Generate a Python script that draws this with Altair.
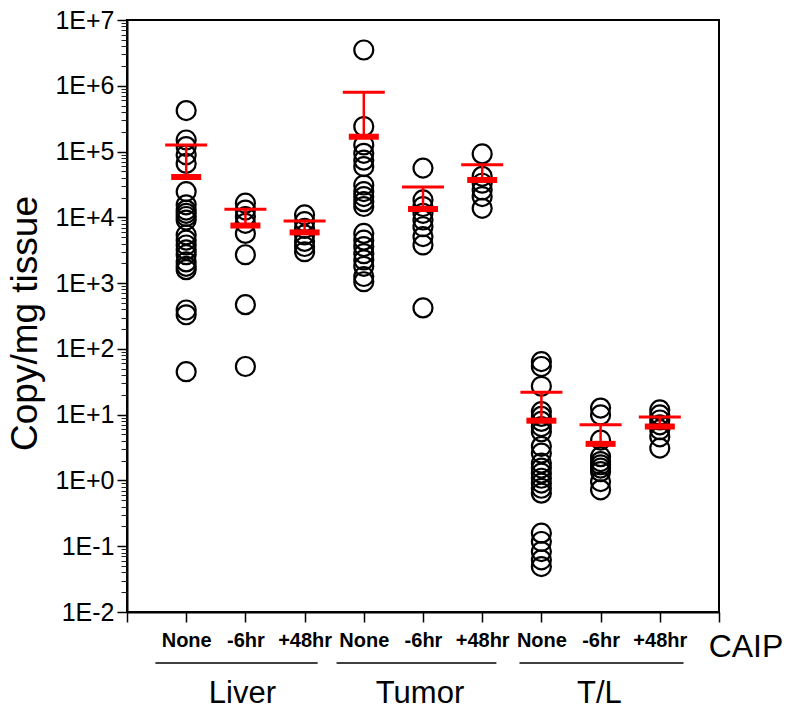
import altair as alt
import pandas as pd

FONT = "Liberation Sans, Arial, Helvetica, sans-serif"

tissues = ["Liver", "Tumor", "T/L"]
treatments = ["None", "-6hr", "+48hr"]

# Copy/mg tissue (log scale)
liver_none = [4.2e5, 1.5e5, 1.19e5, 8.9e4, 6.6e4, 2.46e4, 1.55e4, 1.29e4, 1.15e4, 1.03e4,
              9.1e3, 5.4e3, 4.5e3, 3.8e3, 3.2e3, 2.7e3, 2.1e3, 1.8e3, 1.6e3, 3.9e2, 3.3e2, 45]
liver_m6 = [1.64e4, 1.29e4, 1.03e4, 8.1e3, 5.7e3, 2.7e3, 4.7e2, 54]
liver_p48 = [1.09e4, 8.6e3, 6.8e3, 5.4e3, 4.3e3, 3.6e3, 3.0e3]
tumor_none = [3.5e6, 2.4e5, 1.26e5, 9.4e4, 7.4e4, 5.9e4, 3.1e4, 2.46e4, 2.07e4, 1.73e4,
              1.46e4, 5.7e3, 4.5e3, 3.6e3, 2.8e3, 2.25e3, 1.8e3, 1.26e3, 1.05e3]
tumor_m6 = [5.6e4, 1.84e4, 1.46e4, 1.15e4, 9.1e3, 7.2e3, 5.1e3, 3.8e3, 4.2e2]
tumor_p48 = [9.2e4, 4.2e4, 3.3e4, 2.6e4, 2.07e4, 1.37e4]
tl_none = [64, 54, 27, 11.1, 9.4, 7.9, 6.6, 5.5, 3.3, 2.6, 1.83, 1.54, 1.29, 1.08, 0.91,
           0.76, 0.64, 0.158, 0.118, 0.083, 0.062, 0.049]
tl_m6 = [12.6, 9.9, 4.1, 2.3, 1.94, 1.73, 1.54, 1.36, 0.96, 0.72]
tl_p48 = [11.8, 9.9, 8.3, 7.0, 5.9, 4.6, 3.1]

group_means = [4.1e4, 7.5e3, 5.9e3, 1.68e5, 1.34e4, 3.7e4, 8.1, 3.6, 6.6]
group_upper = [1.26e5, 1.33e4, 8.8e3, 8.0e5, 2.9e4, 6.3e4, 22, 7.0, 9.2]

series = [liver_none, liver_m6, liver_p48, tumor_none, tumor_m6, tumor_p48,
          tl_none, tl_m6, tl_p48]

rows = []
for i, vals in enumerate(series):
    for v in vals:
        rows.append({"pos": i + 1, "value": v})
points_df = pd.DataFrame(rows)
summary_df = pd.DataFrame({"pos": list(range(1, 10)), "mean": group_means, "upper": group_upper})

# decorative group underlines and labels (x in axis units)
group_df = pd.DataFrame({
    "tissue": tissues,
    "start": [0.48, 3.54, 6.63],
    "end": [3.22, 6.24, 9.40],
    "center": [1.95, 4.95, 7.98],
})

major_ticks = [10.0 ** k for k in range(-2, 8)]
minor_ticks = [m * 10.0 ** k for k in range(-2, 7) for m in range(2, 10)]

W, H = 592, 592
x_scale = alt.Scale(domain=[0, 10], nice=False, zero=False)
y_scale = alt.Scale(type="log", domain=[0.01, 1e7], nice=False)

x_label_expr = ("datum.value >= 1 && datum.value <= 9 ? ["
                + ",".join("'%s'" % t for t in treatments)
                + "][(datum.value - 1) % 3] : ''")
y_label_expr = ("'1E' + (datum.value >= 1 ? '+' : '-') + "
                "abs(round(log(datum.value) / LN10))")

x_axis = alt.Axis(values=list(range(11)), labelExpr=x_label_expr, title=None, grid=False,
                  tickSize=10, tickWidth=1.5, tickColor="black", domainColor="black",
                  domainWidth=2, labelFontSize=20, labelFontWeight="bold", labelPadding=8,
                  labelColor="black", labelFont=FONT, labelFlush=False, labelOverlap=False,
                  labelBound=False)
y_axis = alt.Axis(values=major_ticks, labelExpr=y_label_expr,
                  title="Copy/mg tissue", titleFont=FONT, titleFontSize=37,
                  titleFontWeight="normal", titleColor="black", titleX=-102, titleY=303,
                  titleAlign="center", titleBaseline="middle", titleAngle=-90,
                  grid=False, tickSize=10, tickWidth=1.5, tickColor="black",
                  domainColor="black", domainWidth=2, labelFontSize=25, labelPadding=3,
                  labelColor="black", labelFont=FONT, labelFlush=False, labelOverlap=False,
                  labelBound=False)
minor_axis = alt.Axis(values=minor_ticks, orient="left", labels=False, title=None,
                      grid=False, domain=False, tickSize=6, tickWidth=1,
                      tickColor="#222222")

X = alt.X("pos:Q", scale=x_scale, axis=x_axis)

points = alt.Chart(points_df).mark_point(
    shape="circle", filled=False, size=360, strokeWidth=2.2, color="black", opacity=1
).encode(x=X, y=alt.Y("value:Q", scale=y_scale, axis=y_axis))

minor = alt.Chart(summary_df).mark_point(opacity=0).encode(
    x=X, y=alt.Y("mean:Q", scale=y_scale, axis=minor_axis)
)

err = alt.Chart(summary_df).mark_rule(color="#ff0000", strokeWidth=2.5).encode(
    x=X, y=alt.Y("mean:Q", scale=y_scale, axis=None), y2="upper:Q"
)
cap = alt.Chart(summary_df).mark_tick(
    color="#ff0000", orient="horizontal", size=42, thickness=3, opacity=1
).encode(x=X, y=alt.Y("upper:Q", scale=y_scale, axis=None))
meanbar = alt.Chart(summary_df).mark_tick(
    color="#ff0000", orient="horizontal", size=30, thickness=6, opacity=1
).encode(x=X, y=alt.Y("mean:Q", scale=y_scale, axis=None))

glines = alt.Chart(group_df).mark_rule(color="black", strokeWidth=1.5).encode(
    x=X, x2="end:Q", y=alt.value(643)
).transform_calculate(pos="datum.start")
glabels = alt.Chart(group_df).mark_text(
    font=FONT, fontSize=31, color="black", align="center", baseline="alphabetic"
).encode(x=alt.X("center:Q", scale=x_scale, axis=x_axis), y=alt.value(683), text="tissue:N")

caip = alt.Chart(pd.DataFrame({"t": ["CAIP"]})).mark_text(
    font=FONT, fontSize=32, color="black", align="center", baseline="alphabetic"
).encode(x=alt.value(619), y=alt.value(637), text="t:N")

chart = alt.layer(points, minor, err, cap, meanbar, glines, glabels, caip).resolve_axis(
    y="independent"
).properties(
    width=W, height=H,
    padding={"left": 127, "top": 20, "right": 68, "bottom": 100},
    autosize=alt.AutoSizeParams(type="none"),
    background="white",
).configure_view(stroke="black", strokeWidth=2)

chart.save("out.html", embed_options={"renderer": "svg", "actions": False})
